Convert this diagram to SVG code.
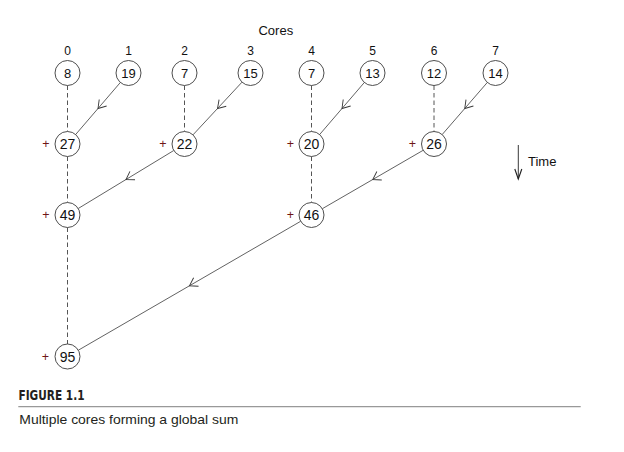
<svg xmlns="http://www.w3.org/2000/svg" width="624" height="452" viewBox="0 0 624 452">
<style>
  text { font-family: "Liberation Sans", Arial, sans-serif; fill: #111; }
  .node circle { fill: #fff; stroke: #3a3a3a; stroke-width: 0.9; }
  .n1 { font-size: 13px; text-anchor: middle; }
  .n2 { font-size: 14px; text-anchor: middle; }
  .core { font-size: 12px; text-anchor: middle; }
  .plus { font-size: 12.5px; text-anchor: middle; fill: #6e1616; }
  .msg { fill: none; stroke: #3a3a3a; stroke-width: 0.8; marker-mid: url(#mid); }
  .dash { fill: none; stroke: #555; stroke-width: 1; stroke-dasharray: 4.5 3; }
  .fig { font-family: "Liberation Sans Narrow", "DejaVu Sans Condensed", "Liberation Sans", sans-serif; font-weight: bold; font-size: 13.5px; fill: #231f20; }
  .cap { font-size: 13px; fill: #231f20; }
</style>
<defs>
  <marker id="mid" markerUnits="userSpaceOnUse" markerWidth="14" markerHeight="14" viewBox="-8 -6 10 12" refX="0" refY="0" orient="auto">
    <path d="M -6.5 -4.2 L 0 0 L -6.5 4.2" fill="none" stroke="#3a3a3a" stroke-width="0.8"/>
  </marker>
  <marker id="tip" markerUnits="userSpaceOnUse" markerWidth="14" markerHeight="10" viewBox="-9 -4 10 8" refX="0" refY="0" orient="auto">
    <path d="M -8 -2.8 L 0 0 L -8 2.8" fill="none" stroke="#222" stroke-width="0.9"/>
  </marker>
</defs>

<text x="275.8" y="35" style="font-size:13px;text-anchor:middle">Cores</text>

<g id="core-labels">
  <text class="core" x="67.5" y="55">0</text>
  <text class="core" x="128.5" y="55">1</text>
  <text class="core" x="184.5" y="55">2</text>
  <text class="core" x="250.5" y="55">3</text>
  <text class="core" x="311.5" y="55">4</text>
  <text class="core" x="372.5" y="55">5</text>
  <text class="core" x="434" y="55">6</text>
  <text class="core" x="495.5" y="55">7</text>
</g>

<g id="connectors">
  <path class="dash" d="M67.5 85.5 V131.5"/>
  <path class="dash" d="M184.5 85.5 V131.5"/>
  <path class="dash" d="M311.5 85.5 V131.5"/>
  <path class="dash" d="M434 85.5 V131.5"/>
  <path class="dash" d="M67.5 156.5 V202.5"/>
  <path class="dash" d="M311.5 156.5 V202.5"/>
  <path class="dash" d="M67.5 227.5 V344"/>
  <path class="msg" d="M120.35 82.48 L98 108.5 L75.65 134.52"/>
  <path class="msg" d="M241.99 82.16 L217.5 108.5 L193.01 134.84"/>
  <path class="msg" d="M364.35 82.48 L342 108.5 L319.65 134.52"/>
  <path class="msg" d="M487.32 82.45 L464.75 108.5 L442.18 134.55"/>
  <path class="msg" d="M173.81 150.48 L126 179.5 L78.19 208.52"/>
  <path class="msg" d="M423.19 150.27 L372.75 179.5 L322.31 208.73"/>
  <path class="msg" d="M300.69 221.27 L189.5 285.75 L78.31 350.23"/>
</g>

<g id="n0" class="node"><circle cx="67.5" cy="73" r="12.5"/><text class="n1" x="67.5" y="77.7">8</text></g>
<g id="n1" class="node"><circle cx="128.5" cy="73" r="12.5"/><text class="n1" x="128.5" y="77.7">19</text></g>
<g id="n2" class="node"><circle cx="184.5" cy="73" r="12.5"/><text class="n1" x="184.5" y="77.7">7</text></g>
<g id="n3" class="node"><circle cx="250.5" cy="73" r="12.5"/><text class="n1" x="250.5" y="77.7">15</text></g>
<g id="n4" class="node"><circle cx="311.5" cy="73" r="12.5"/><text class="n1" x="311.5" y="77.7">7</text></g>
<g id="n5" class="node"><circle cx="372.5" cy="73" r="12.5"/><text class="n1" x="372.5" y="77.7">13</text></g>
<g id="n6" class="node"><circle cx="434" cy="73" r="12.5"/><text class="n1" x="434" y="77.7">12</text></g>
<g id="n7" class="node"><circle cx="495.5" cy="73" r="12.5"/><text class="n1" x="495.5" y="77.7">14</text></g>

<g id="s27" class="node"><text class="plus" x="46" y="148.3">+</text><circle cx="67.5" cy="144" r="12.5"/><text class="n2" x="67.5" y="149">27</text></g>
<g id="s22" class="node"><text class="plus" x="163" y="148.3">+</text><circle cx="184.5" cy="144" r="12.5"/><text class="n2" x="184.5" y="149">22</text></g>
<g id="s20" class="node"><text class="plus" x="290.3" y="148.3">+</text><circle cx="311.5" cy="144" r="12.5"/><text class="n2" x="311.5" y="149">20</text></g>
<g id="s26" class="node"><text class="plus" x="412.3" y="148.3">+</text><circle cx="434" cy="144" r="12.5"/><text class="n2" x="434" y="149">26</text></g>

<g id="s49" class="node"><text class="plus" x="46" y="219.3">+</text><circle cx="67.5" cy="215" r="12.5"/><text class="n2" x="67.5" y="220">49</text></g>
<g id="s46" class="node"><text class="plus" x="290.3" y="219.3">+</text><circle cx="311.5" cy="215" r="12.5"/><text class="n2" x="311.5" y="220">46</text></g>

<g id="s95" class="node"><text class="plus" x="45.5" y="360.8">+</text><circle cx="67.5" cy="356.5" r="12.5"/><text class="n2" x="67.5" y="361.5">95</text></g>

<g id="time">
  <line x1="518.3" y1="145" x2="518.3" y2="179" stroke="#222" stroke-width="0.9" marker-end="url(#tip)"/>
  <text x="528" y="166" style="font-size:13px">Time</text>
</g>

<g id="caption">
  <text class="fig" x="18.5" y="400" textLength="66" lengthAdjust="spacingAndGlyphs">FIGURE 1.1</text>
  <line x1="18.3" y1="406.7" x2="580.7" y2="406.7" stroke="#999" stroke-width="1.3"/>
  <text class="cap" x="19.3" y="424" textLength="219" lengthAdjust="spacingAndGlyphs">Multiple cores forming a global sum</text>
</g>
</svg>
